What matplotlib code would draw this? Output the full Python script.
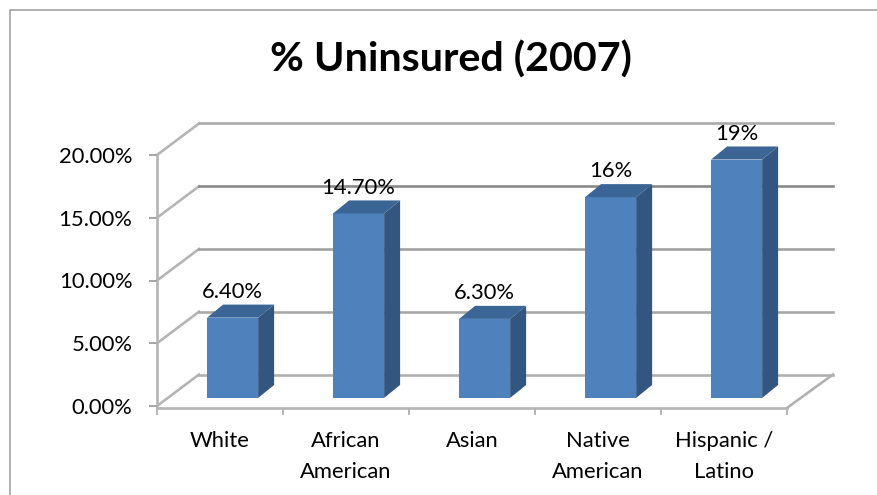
import matplotlib
matplotlib.use("Agg")
import matplotlib.pyplot as plt
from matplotlib.lines import Line2D
from matplotlib.patches import Polygon

plt.rcParams['font.family'] = ['Lato', 'DejaVu Sans']

categories = ["White", "African\nAmerican", "Asian", "Native\nAmerican", "Hispanic /\nLatino"]
values = [6.4, 14.7, 6.3, 16, 19]
value_labels = ["6.40%", "14.70%", "6.30%", "16%", "19%"]
y_ticks = [0, 5, 10, 15, 20]
y_tick_labels = ["0.00%", "5.00%", "10.00%", "15.00%", "20.00%"]
grid_colors = ["#b0b0b0", "#a8a8a8", "#a0a0a0", "#888888", "#a8a8a8"]

W, H = 877, 495
fig = plt.figure(figsize=(W / 100, H / 100), dpi=100, facecolor="white")
ax = fig.add_axes([157 / W, 1 - 406 / H, 630 / W, 251 / H])
ax.set_xlim(-0.5, 4.5)
ax.set_ylim(0, 20)
ax.patch.set_visible(False)

PX = 0.72
FS = 15.8
axis_col = "#b4b4b4"
# wall depth, in data units
wall_dx_l, wall_dx_r, wall_dy = 42 / 126, 46 / 126, 31.5 / 12.55
# bar geometry, in data units
bar_w, bar_shift, bar_base, depth_x, depth_y = 0.405, 0.1, 0.64, 0.127, 1.04
front = "#4f81bd"
side = "#335680"
top = "#3a6595"

for s in ("top", "right"):
    ax.spines[s].set_visible(False)
for s in ("left", "bottom"):
    ax.spines[s].set_color(axis_col)
    ax.spines[s].set_linewidth(2.6 * PX)
ax.spines["bottom"].set_position(("data", -0.15))

ax.set_yticks(y_ticks, y_tick_labels, fontsize=FS, color="black")
ax.set_xticks([i - 0.5 for i in range(6)], minor=False)
ax.set_xticklabels([""] * 6)
ax.set_xticks(range(5), categories, minor=True, fontsize=FS, linespacing=1.65)
ax.tick_params(axis="y", length=6 * PX * 1.3, width=1.5 * PX, color="#8c8c8c", pad=12)
ax.tick_params(axis="x", which="major", length=5 * PX * 1.3, width=1.5 * PX, color="#a0a0a0")
ax.tick_params(axis="x", which="minor", length=0, pad=17)

# back wall gridlines and left-wall diagonals
for t, c in zip(y_ticks, grid_colors):
    yb = t + wall_dy
    ax.plot([-0.5, -0.5 + wall_dx_l], [t, yb], color=axis_col, lw=2.6 * PX, clip_on=False, zorder=1)
    ax.plot([-0.5 + wall_dx_l, 4.5 + wall_dx_r], [yb, yb], color=c, lw=2.6 * PX, clip_on=False, zorder=1)
# right floor edge
ax.plot([4.5, 4.5 + wall_dx_r], [-0.15, wall_dy], color="#b0b0b0", lw=2.6 * PX, clip_on=False, zorder=1)

for i, v in enumerate(values):
    x0 = i + bar_shift - bar_w / 2
    x1 = x0 + bar_w
    y0 = bar_base
    y1 = bar_base + v
    ax.bar(x0, v, width=bar_w, bottom=y0, align="edge", color=front, linewidth=0, zorder=3, clip_on=False)
    ax.add_patch(Polygon([(x1, y0), (x1 + depth_x, y0 + depth_y), (x1 + depth_x, y1 + depth_y), (x1, y1)],
                         closed=True, fc=side, ec="none", zorder=3, clip_on=False))
    ax.add_patch(Polygon([(x0, y1), (x1, y1), (x1 + depth_x, y1 + depth_y), (x0 + depth_x, y1 + depth_y)],
                         closed=True, fc=top, ec="none", zorder=3, clip_on=False))
    ax.annotate(value_labels[i], (x0 + bar_w / 2, y1), xytext=(0, 18.5), textcoords="offset points",
                ha="center", va="center", fontsize=FS, color="black", zorder=4, annotation_clip=False)

fig.text(450.5 / W, 1 - 60 / H, "% Uninsured (2007)", ha="center", va="center",
         fontsize=29.7, fontweight="bold", color="black")

# chart frame
fig.add_artist(Line2D([10 / W, 10 / W, 1], [0, 1 - 10 / H, 1 - 10 / H], transform=fig.transFigure,
                      color="#a0a0a0", lw=1.6 * PX))

fig.savefig("out.png", dpi=100)
